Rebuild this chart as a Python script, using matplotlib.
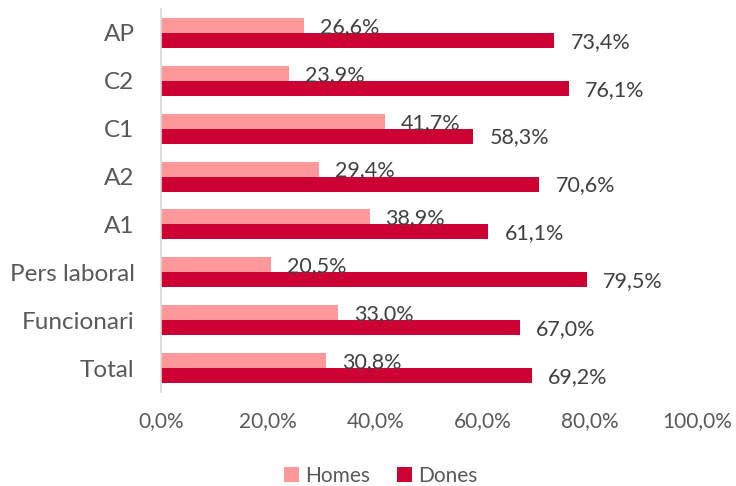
from matplotlib import pyplot as plt
import numpy as np

# data, top to bottom as in the chart
categories = ["AP", "C2", "C1", "A2", "A1", "Pers laboral", "Funcionari", "Total"]
homes = [26.6, 23.9, 41.7, 29.4, 38.9, 20.5, 33.0, 30.8]
dones = [73.4, 76.1, 58.3, 70.6, 61.1, 79.5, 67.0, 69.2]
xticks = [0, 20, 40, 60, 80, 100]

c_homes = "#FF9999"
c_dones = "#CC0033"
txt = "#595959"

plt.rcParams['font.family'] = ['Lato', 'DejaVu Sans']

fig = plt.figure(figsize=(7.36, 4.86), dpi=100)
ax = fig.add_axes([161/736, 1 - 392/486, (697-161)/736, (392-9)/486])

y = np.arange(len(categories))[::-1]
h = 0.3125
b1 = ax.barh(y + h/2, homes, height=h, color=c_homes, label="Homes")
b2 = ax.barh(y - h/2, dones, height=h, color=c_dones, label="Dones")

def fmt(v):
    return f"{v:.1f}%".replace(".", ",")

for bars, vals in [(b1, homes), (b2, dones)]:
    for r, v in zip(bars, vals):
        ax.annotate(fmt(v), (r.get_width(), r.get_y() + r.get_height()/2),
                    xytext=(11.5, -1), textcoords="offset points",
                    ha="left", va="center", fontsize=15.5, color="#404040")

ax.set_xlim(0, 100)
ax.set_ylim(-0.5, len(categories) - 0.5)
ax.set_xticks(xticks)
ax.set_xticklabels([fmt(t) for t in xticks])
ax.set_yticks(y)
ax.set_yticklabels(categories)
ax.tick_params(axis="x", length=0, pad=14, labelsize=15, labelcolor=txt)
ax.tick_params(axis="y", length=0, pad=19, labelsize=17.5, labelcolor=txt)

for s in ["top", "right", "bottom"]:
    ax.spines[s].set_visible(False)
ax.spines["left"].set_color("#D9D9D9")
ax.spines["left"].set_linewidth(1.2)

fig.legend(handles=[b1, b2], loc="center", bbox_to_anchor=(381/736, 1 - 476/486),
           ncol=2, frameon=False, fontsize=15, labelcolor=txt,
           handlelength=0.7, handleheight=0.7, handletextpad=0.3, columnspacing=1.3)

plt.savefig("out.png", dpi=100)
